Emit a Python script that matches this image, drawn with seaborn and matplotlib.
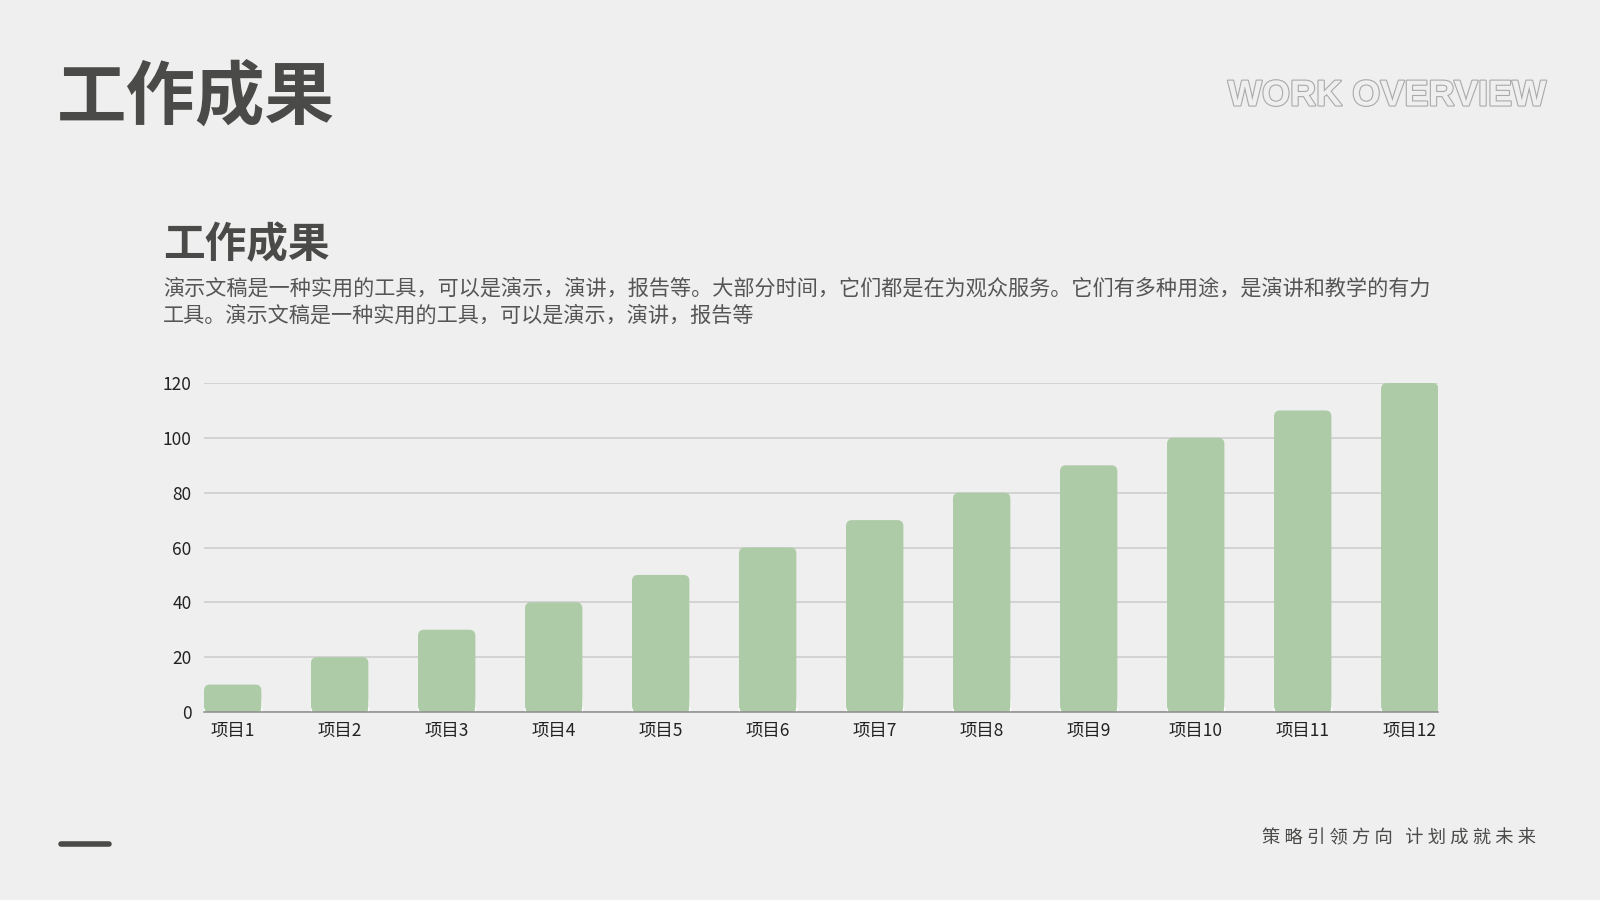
import numpy as np
import pandas as pd
import matplotlib
matplotlib.use('Agg')
import matplotlib.pyplot as plt
import matplotlib.patheffects as pe
from matplotlib.patches import FancyBboxPatch
import seaborn as sns

# 데이터
categories = ['项目1', '项目2', '项目3', '项目4', '项目5', '项目6',
              '项目7', '项目8', '项目9', '项目10', '项目11', '项目12']
values = [10, 20, 30, 40, 50, 60, 70, 80, 90, 100, 110, 120]
y_ticks = [0, 20, 40, 60, 80, 100, 120]

title = '工作成果'
sub_title = '工作成果'
desc_lines = ['演示文稿是一种实用的工具，可以是演示，演讲，报告等。大部分时间，它们都是在为观众服务。它们有多种用途，是演讲和教学的有力',
              '工具。演示文稿是一种实用的工具，可以是演示，演讲，报告等']
footer = '策 略 引 领 方 向   计 划 成 就 未 来'

bg = '#efefef'
bar_color = '#adcba6'
dark = '#4a4a48'

sns.set_style('white')
plt.rcParams['font.family'] = ['Noto Sans CJK SC', 'DejaVu Sans']

df = pd.DataFrame({'项目': categories, '数值': values})

fig = plt.figure(figsize=(16, 9), dpi=100, facecolor=bg)
ax = fig.add_axes([0.1275, 0.2089, 0.899 - 0.1275, 0.5744 - 0.2089])
ax.set_facecolor(bg)

bar_w = 0.536
sns.barplot(data=df, x='项目', y='数值', color=bar_color, width=bar_w,
            saturation=1, ax=ax, zorder=3)

ax.set_xlim(-bar_w / 2, len(categories) - 1 + bar_w / 2)
ax.set_ylim(0, 120)
ax.set_yticks(y_ticks)
ax.set_xlabel('')
ax.set_ylabel('')
ax.grid(axis='y', color='#cbcbcb', linewidth=1.1, zorder=0)
ax.grid(axis='x', visible=False)
for s in ['top', 'right', 'left']:
    ax.spines[s].set_visible(False)
ax.spines['bottom'].set_color('#8c8c8c')
ax.spines['bottom'].set_linewidth(1.1)
ax.spines['bottom'].set_zorder(4)
ax.tick_params(axis='y', length=0, pad=9, labelsize=12.5, labelcolor='#222222')
ax.tick_params(axis='x', length=0, pad=7, labelsize=12.5, labelcolor='#222222')

# 막대 윗부분만 둥글게 (아래는 직각 유지)
fig.canvas.draw()
bbox = ax.get_window_extent()
ux = (ax.get_xlim()[1] - ax.get_xlim()[0]) / bbox.width
uy = (ax.get_ylim()[1] - ax.get_ylim()[0]) / bbox.height
r_px = 6
for p in list(ax.patches):
    x0, w, h = p.get_x(), p.get_width(), p.get_height()
    p.set_height(min(h, 2 * r_px * uy))
    fb = FancyBboxPatch((x0, 0), w, h,
                        boxstyle=f'round,pad=0,rounding_size={r_px * ux}',
                        mutation_aspect=uy / ux,
                        facecolor=bar_color, edgecolor='none', zorder=3)
    ax.add_patch(fb)

# 제목들
fig.text(57 / 1600, 1 - 98 / 900, title, fontsize=50, fontweight='bold',
         color=dark, ha='left', va='center')
fig.text(1546 / 1600, 1 - 96 / 900, 'WORK OVERVIEW', fontsize=26,
         fontweight='bold', family='Liberation Sans', color=bg,
         ha='right', va='center',
         path_effects=[pe.withStroke(linewidth=1.6, foreground='#a9a9a9')])
fig.text(163 / 1600, 1 - 245 / 900, sub_title, fontsize=30, fontweight='bold',
         color=dark, ha='left', va='center')
fig.text(163 / 1600, 1 - 289 / 900, desc_lines[0], fontsize=15.2,
         color='#555555', ha='left', va='center')
fig.text(163 / 1600, 1 - 316 / 900, desc_lines[1], fontsize=15.2,
         color='#555555', ha='left', va='center')

# 하단 장식
fig.add_artist(plt.Line2D([61 / 1600, 109 / 1600], [1 - 844 / 900, 1 - 844 / 900],
                          color=dark, linewidth=4, transform=fig.transFigure))
fig.text(1536 / 1600, 1 - 838 / 900, footer, fontsize=13.2,
         color=dark, ha='right', va='center')

fig.savefig('out.png', dpi=100, facecolor=bg)
